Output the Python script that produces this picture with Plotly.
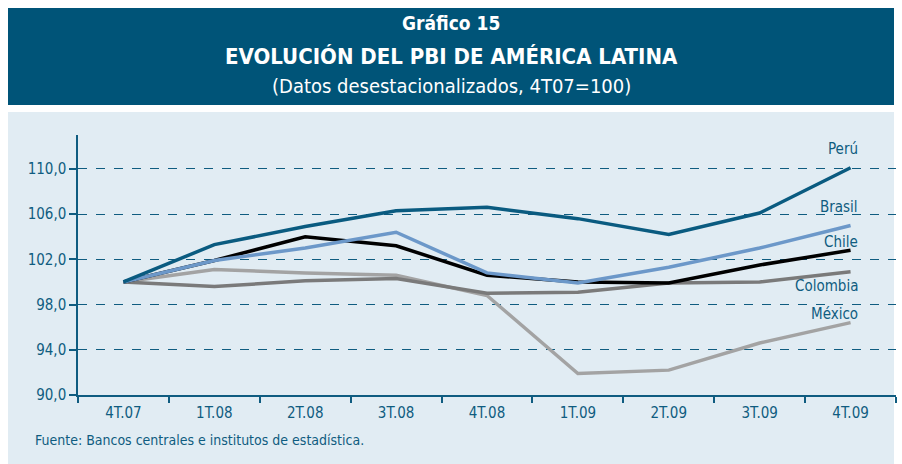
import plotly.graph_objects as go

categories = ["4T.07", "1T.08", "2T.08", "3T.08", "4T.08", "1T.09", "2T.09", "3T.09", "4T.09"]
peru     = [100.0, 103.3, 104.9, 106.3, 106.6, 105.6, 104.2, 106.1, 110.1]
brasil   = [100.0, 101.9, 103.0, 104.4, 100.8, 99.9, 101.3, 103.0, 105.0]
chile    = [100.0, 101.9, 104.0, 103.2, 100.6, 100.0, 99.9, 101.5, 102.8]
colombia = [100.0, 99.6, 100.1, 100.3, 99.0, 99.1, 99.9, 100.0, 100.9]
mexico   = [100.0, 101.1, 100.8, 100.6, 98.8, 91.9, 92.2, 94.6, 96.4]
ytick_vals = [90, 94, 98, 102, 106, 110]
ytick_text = ["90,0", "94,0", "98,0", "102,0", "106,0", "110,0"]

series = [
    ("México", mexico, "#a3a3a3", 97.2),
    ("Colombia", colombia, "#7a7a7a", 99.6),
    ("Chile", chile, "#000000", 103.5),
    ("Brasil", brasil, "#6c98c9", 106.6),
    ("Perú", peru, "#0a5b80", 111.8),
]

FONT = "Liberation Sans Narrow, DejaVu Sans Condensed, Open Sans, sans-serif"
BLUE = "#0f5c80"
W, H = 902, 464

fig = go.Figure()
for name, vals, col, ly in series:
    fig.add_trace(go.Scatter(x=categories, y=vals, mode="lines", name=name,
                             line=dict(color=col, width=3.5), showlegend=False))
    fig.add_annotation(x=categories[-1], y=ly, text=name, showarrow=False,
                       xanchor="right", yanchor="middle", xshift=9,
                       font=dict(family=FONT, size=15, color=BLUE))

# header band and panel
fig.add_shape(type="rect", xref="paper", yref="paper", x0=8/W, x1=894/W, y0=1-105/H, y1=1-8/H,
              fillcolor="#005478", line_width=0, layer="below")
fig.add_shape(type="rect", xref="paper", yref="paper", x0=8/W, x1=894/W, y0=0, y1=1-112/H,
              fillcolor="#e1ecf3", line_width=0, layer="below")

fig.add_annotation(xref="paper", yref="paper", x=0.5, y=1-23/H, yanchor="middle",
                   text="<b>Gráfico 15</b>",
                   showarrow=False, font=dict(family=FONT, size=19, color="white"))
fig.add_annotation(xref="paper", yref="paper", x=0.5, y=1-56/H, yanchor="middle",
                   text="<b>EVOLUCIÓN DEL PBI DE AMÉRICA LATINA</b>",
                   showarrow=False, font=dict(family=FONT, size=22, color="white"))
fig.add_annotation(xref="paper", yref="paper", x=0.5, y=1-86/H, yanchor="middle",
                   text="(Datos desestacionalizados, 4T07=100)",
                   showarrow=False, font=dict(family=FONT, size=20, color="white"))
fig.add_annotation(xref="paper", yref="paper", x=33/W, y=1-440/H, xanchor="left", yanchor="middle",
                   text="Fuente: Bancos centrales e institutos de estadística.",
                   showarrow=False, font=dict(family=FONT, size=14, color=BLUE))

fig.update_layout(
    width=W, height=H, margin=dict(l=0, r=0, t=0, b=0),
    paper_bgcolor="white", plot_bgcolor="rgba(0,0,0,0)",
    xaxis=dict(domain=[78/W, 896/W], type="category", tickson="boundaries", automargin=False,
               ticks="outside", ticklen=6, tickcolor=BLUE, tickwidth=1.5, ticklabelstandoff=3,
               showline=True, linecolor=BLUE, linewidth=1.5, showgrid=False,
               tickfont=dict(family=FONT, size=15, color=BLUE), range=[-0.5, 8.5]),
    yaxis=dict(domain=[1-395/H, 1-135/H], range=[90, 113], tickvals=ytick_vals, ticktext=ytick_text,
               automargin=False,
               ticks="outside", ticklen=7, tickcolor=BLUE, tickwidth=1.5,
               showline=True, linecolor=BLUE, linewidth=1.5,
               showgrid=True, gridcolor=BLUE, gridwidth=1.3, griddash="dash", zeroline=False,
               tickfont=dict(family=FONT, size=15, color=BLUE)),
)
fig.write_html("out.html", config={"displayModeBar": False},
               post_script="document.body.style.margin='0';document.body.style.padding='0';")
